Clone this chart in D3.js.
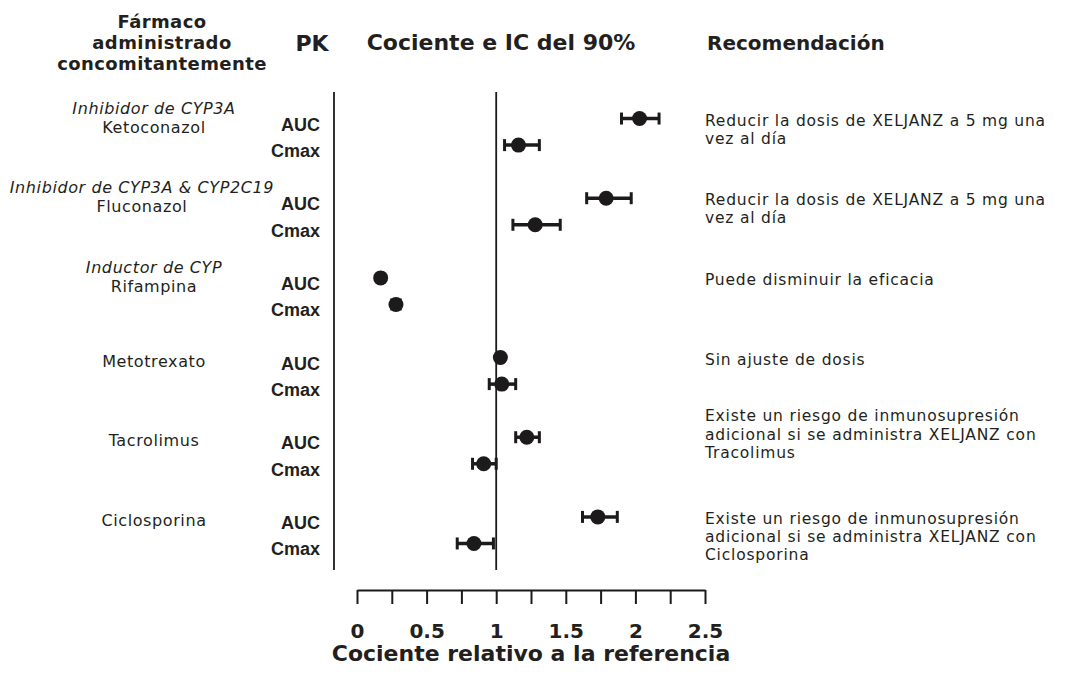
<!DOCTYPE html>
<html>
<head>
<meta charset="utf-8">
<script src="https://cdn.jsdelivr.net/npm/d3@7"></script>
<style>
  html, body { margin: 0; padding: 0; background: #fff; }
  svg { display: block; }
  text { fill: #231f20; }
</style>
</head>
<body>
<svg id="chart" width="1067" height="677"></svg>
<script>
// data
const drugs = ['Ketoconazol', 'Fluconazol', 'Rifampina', 'Metotrexato', 'Tacrolimus', 'Ciclosporina'];
const drugClass = ['Inhibidor de CYP3A', 'Inhibidor de CYP3A & CYP2C19', 'Inductor de CYP', '', '', ''];
const pkMeasures = ['AUC', 'Cmax'];

const aucRatio = [2.03, 1.79, 0.17, 1.03, 1.22, 1.73];
const aucLower = [1.90, 1.65, 0.15, 1.01, 1.14, 1.62];
const aucUpper = [2.17, 1.97, 0.19, 1.05, 1.31, 1.87];

const cmaxRatio = [1.16, 1.28, 0.28, 1.04, 0.91, 0.84];
const cmaxLower = [1.06, 1.12, 0.25, 0.95, 0.83, 0.72];
const cmaxUpper = [1.31, 1.46, 0.31, 1.14, 1.00, 0.98];

const recommendations = [
    ['Reducir la dosis de XELJANZ a 5 mg una', 'vez al día'],
    ['Reducir la dosis de XELJANZ a 5 mg una', 'vez al día'],
    ['Puede disminuir la eficacia'],
    ['Sin ajuste de dosis'],
    ['Existe un riesgo de inmunosupresión', 'adicional si se administra XELJANZ con', 'Tracolimus'],
    ['Existe un riesgo de inmunosupresión', 'adicional si se administra XELJANZ con', 'Ciclosporina']
];

const xTicks = [0, 0.25, 0.5, 0.75, 1, 1.25, 1.5, 1.75, 2, 2.25, 2.5];
const xTickLabels = [0, 0.5, 1, 1.5, 2, 2.5];
const refValue = 1;

// layout only: how many lines the recommendation block is lifted
const recLift = [0, 0, 0, 0, 1.25, 0];

const rows = [];
drugs.forEach((d, i) => {
    rows.push({drug: d, pk: 'AUC', value: aucRatio[i], lo: aucLower[i], hi: aucUpper[i]});
    rows.push({drug: d, pk: 'Cmax', value: cmaxRatio[i], lo: cmaxLower[i], hi: cmaxUpper[i]});
});

const svg = d3.select('#chart');
const ink = '#1c1a1b';
const plotTop = 92, plotBottom = 570;
const lineGap = 18.2;

const x = d3.scaleLinear().domain([0, 2.5]).range([357, 705]);
const yGroup = d3.scaleBand().domain(drugs).range([plotTop, plotBottom]);
const ySub = d3.scalePoint().domain(pkMeasures)
    .range([yGroup.bandwidth() / 3, 2 * yGroup.bandwidth() / 3]);
const yRow = (d) => yGroup(d.drug) + ySub(d.pk);

// column headers
const hdr = svg.append('g').style('font-family', '"DejaVu Sans", sans-serif').style('font-weight', 'bold');
hdr.selectAll('text.h1')
    .data(['Fármaco', 'administrado', 'concomitantemente'])
    .enter().append('text')
    .attr('x', 162)
    .attr('y', (d, i) => 28 + i * 21)
    .attr('text-anchor', 'middle')
    .style('font-size', '18px')
    .style('letter-spacing', '0.4px')
    .text(d => d);
hdr.append('text').attr('x', 312).attr('y', 51).attr('text-anchor', 'middle')
    .style('font-size', '22px').text('PK');
hdr.append('text').attr('x', 501).attr('y', 50).attr('text-anchor', 'middle')
    .style('font-size', '22px').text('Cociente e IC del 90%');
hdr.append('text').attr('x', 707).attr('y', 50)
    .style('font-size', '20px').text('Recomendación');

// frame line and reference line
svg.append('line')
    .attr('x1', 334).attr('x2', 334)
    .attr('y1', plotTop).attr('y2', plotBottom)
    .attr('stroke', ink).attr('stroke-width', 1.8);
svg.append('line')
    .attr('x1', x(refValue)).attr('x2', x(refValue))
    .attr('y1', plotTop).attr('y2', plotBottom)
    .attr('stroke', ink).attr('stroke-width', 1.8);

// drug names and classes
const names = svg.append('g')
    .style('font-family', '"DejaVu Sans", sans-serif')
    .style('font-size', '16px')
    .style('letter-spacing', '0.6px');
drugs.forEach((d, i) => {
    const yAuc = yGroup(d) + ySub('AUC');
    if (drugClass[i]) {
        const cls = names.append('text')
            .attr('y', yAuc - 5)
            .attr('text-anchor', 'middle')
            .style('font-style', 'italic')
            .text(drugClass[i]);
        const w = cls.node().getComputedTextLength();
        const cx = Math.min(154, 274 - w / 2);
        cls.attr('x', cx);
        names.append('text').attr('x', cx).attr('y', yAuc + 14)
            .attr('text-anchor', 'middle').text(d);
    } else {
        names.append('text').attr('x', 154).attr('y', yAuc + 9)
            .attr('text-anchor', 'middle').text(d);
    }
});

// PK labels
svg.append('g').selectAll('text')
    .data(rows)
    .enter().append('text')
    .attr('x', 320)
    .attr('y', d => yRow(d) + 12)
    .attr('text-anchor', 'end')
    .style('font-family', '"Liberation Sans", Arial, sans-serif')
    .style('font-weight', 'bold')
    .style('font-size', '18px')
    .text(d => d.pk);

// confidence intervals
const ci = svg.append('g').attr('stroke', ink).attr('stroke-width', 3.5);
ci.selectAll('line.bar')
    .data(rows).enter().append('line')
    .attr('class', 'bar')
    .attr('x1', d => x(d.lo)).attr('x2', d => x(d.hi))
    .attr('y1', yRow).attr('y2', yRow);
ci.selectAll('line.capl')
    .data(rows).enter().append('line')
    .attr('class', 'capl')
    .attr('x1', d => x(d.lo)).attr('x2', d => x(d.lo))
    .attr('y1', d => yRow(d) - 6).attr('y2', d => yRow(d) + 6)
    .attr('stroke-width', 3);
ci.selectAll('line.capr')
    .data(rows).enter().append('line')
    .attr('class', 'capr')
    .attr('x1', d => x(d.hi)).attr('x2', d => x(d.hi))
    .attr('y1', d => yRow(d) - 6).attr('y2', d => yRow(d) + 6)
    .attr('stroke-width', 3);

// point estimates
svg.append('g').selectAll('circle')
    .data(rows).enter().append('circle')
    .attr('cx', d => x(d.value))
    .attr('cy', yRow)
    .attr('r', 7.5)
    .attr('fill', ink);

// recommendations
const rec = svg.append('g')
    .style('font-family', '"DejaVu Sans", sans-serif')
    .style('font-size', '15.5px')
    .style('letter-spacing', '0.8px');
drugs.forEach((d, i) => {
    const y0 = yGroup(d) + ySub('AUC') + 7 - recLift[i] * lineGap;
    rec.append('text')
        .attr('x', 705)
        .attr('y', y0)
        .selectAll('tspan')
        .data(recommendations[i]).enter().append('tspan')
        .attr('x', 705)
        .attr('dy', (t, j) => j === 0 ? 0 : lineGap)
        .text(t => t);
});

// x axis
const axis = svg.append('g')
    .attr('transform', 'translate(0, 590)')
    .call(d3.axisBottom(x)
        .tickValues(xTicks)
        .tickSize(14)
        .tickSizeOuter(0)
        .tickFormat(d => xTickLabels.includes(d) ? String(d) : ''));
axis.select('.domain').attr('stroke', ink).attr('stroke-width', 2);
axis.selectAll('.tick line').attr('stroke', ink).attr('stroke-width', 2);
axis.selectAll('.tick text')
    .attr('y', 48).attr('dy', 0)
    .style('font-family', '"DejaVu Sans", sans-serif')
    .style('font-weight', 'bold')
    .style('font-size', '20px')
    .attr('fill', '#231f20');

svg.append('text')
    .attr('x', (x.range()[0] + x.range()[1]) / 2)
    .attr('y', 661)
    .attr('text-anchor', 'middle')
    .style('font-family', '"DejaVu Sans", sans-serif')
    .style('font-weight', 'bold')
    .style('font-size', '22px')
    .text('Cociente relativo a la referencia');
</script>
</body>
</html>
